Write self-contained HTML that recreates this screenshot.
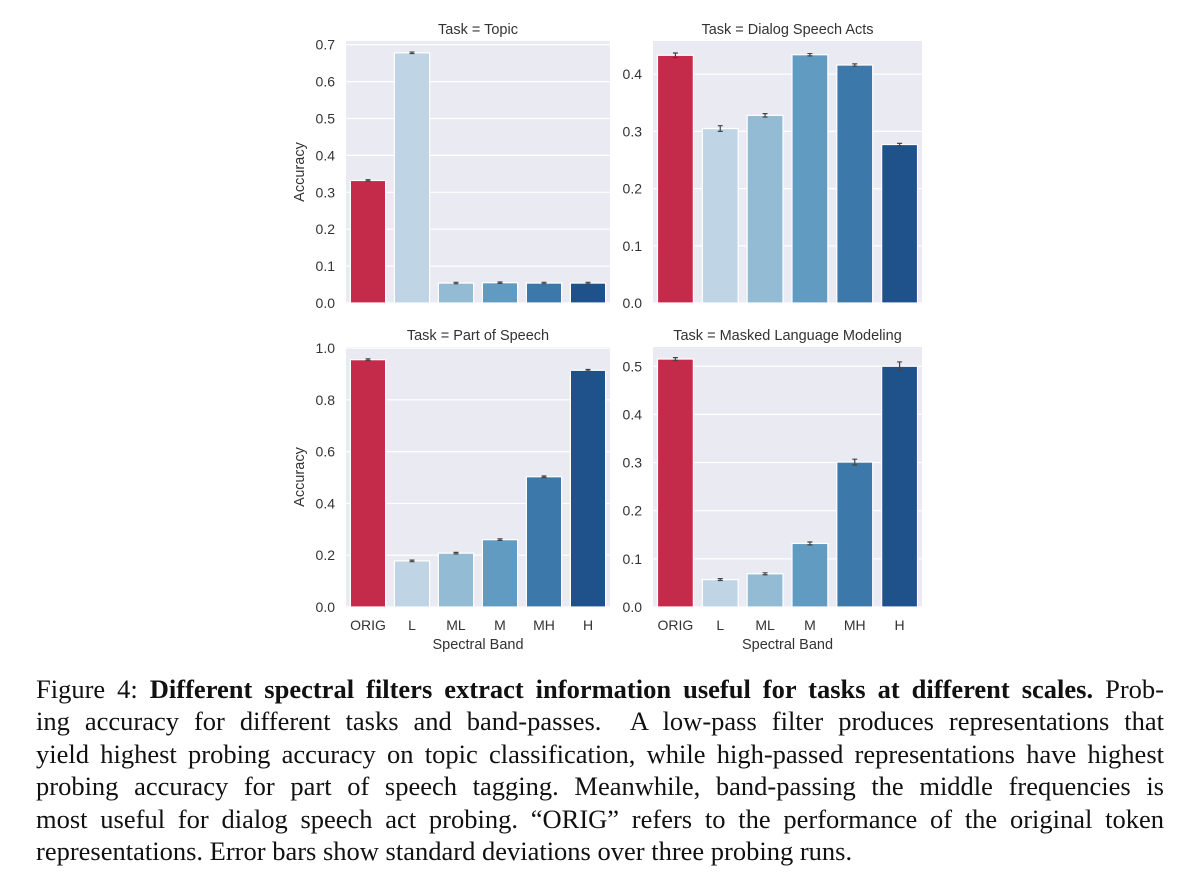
<!DOCTYPE html>
<html><head><meta charset="utf-8"><style>
body{margin:0;background:#fff;width:1200px;height:878px;overflow:hidden;position:relative}
svg{position:absolute;left:0;top:0}
#cap{position:absolute;left:36px;top:673px;width:1128px;font-family:"Liberation Serif",serif;font-size:26.5px;line-height:32.4px;color:#111}
#cap div{white-space:nowrap;height:32.4px}
#cap span{display:inline-block;transform-origin:0 50%}
</style></head><body>
<svg id="chart" width="1200" height="670" font-family="Liberation Sans, sans-serif"></svg>
<div id="cap">
<div><span>Figure 4: <b>Different spectral filters extract information useful for tasks at different scales.</b> Prob-</span></div>
<div><span>ing accuracy for different tasks and band-passes.&nbsp; A low-pass filter produces representations that</span></div>
<div><span>yield highest probing accuracy on topic classification, while high-passed representations have highest</span></div>
<div><span>probing accuracy for part of speech tagging. Meanwhile, band-passing the middle frequencies is</span></div>
<div><span>most useful for dialog speech act probing. “ORIG” refers to the performance of the original token</span></div>
<div class="last"><span>representations. Error bars show standard deviations over three probing runs.</span></div>
</div>
<script>
document.querySelectorAll('#cap div').forEach(d=>{
  const s=d.firstElementChild;
  if(d.classList.contains('last'))return;
  const w=s.getBoundingClientRect().width;
  const n=(s.textContent.trim().match(/[ \u00a0]/g)||[]).length;
  if(w<1128&&n){s.style.wordSpacing=((1128-w)/n)+'px';}
  const w2=s.getBoundingClientRect().width;
  if(w2>1128.5){s.style.transform='scaleX('+(1128/w2)+')';}
});
const categories=["ORIG","L","ML","M","MH","H"];
const topicVals=[0.332,0.678,0.054,0.055,0.054,0.054];
const dialogVals=[0.433,0.305,0.328,0.434,0.416,0.277];
const posVals=[0.955,0.178,0.208,0.260,0.503,0.914];
const mlmVals=[0.515,0.057,0.069,0.132,0.301,0.500];
const topicErr=[0.002,0.002,0.002,0.002,0.002,0.002];
const dialogErr=[0.004,0.005,0.003,0.002,0.002,0.002];
const posErr=[0.003,0.003,0.003,0.003,0.003,0.003];
const mlmErr=[0.003,0.002,0.002,0.003,0.006,0.009];
const topicTicks=[0,0.1,0.2,0.3,0.4,0.5,0.6,0.7];
const dialogTicks=[0,0.1,0.2,0.3,0.4];
const posTicks=[0,0.2,0.4,0.6,0.8,1.0];
const mlmTicks=[0,0.1,0.2,0.3,0.4,0.5];
const colors=["#c42a4a","#bfd5e6","#93bcd4","#629bc1","#3c78a9","#1f528a"];
const NS="http://www.w3.org/2000/svg";
const svg=document.getElementById('chart');
function mk(t,a,p){const e=document.createElementNS(NS,t);for(const k in a)e.setAttribute(k,a[k]);(p||svg).appendChild(e);return e;}
function panel(key,title,vals,errs,ticks,ymax,x0,x1,y0,y1,showY,showX){
  const g=mk('g',{});
  
  
  const y=v=>y1-(v/ymax)*(y1-y0);
  const bg=mk('rect',{x:x0,y:y0,width:x1-x0,height:y1-y0,fill:'#eaeaf2'},g);
  
  ticks.forEach(t=>{
    const l=mk('line',{x1:x0,x2:x1,y1:y(t),y2:y(t),stroke:'#fff','stroke-width':1.2},g);
    
    const tx=mk('text',{x:x0-11,y:y(t)+5,'text-anchor':'end','font-size':14,fill:'#333'},g);
    tx.textContent=(Math.round(t*10)/10).toFixed(1);
    
  });
  const bw=(x1-x0)/categories.length;
  categories.forEach((c,i)=>{
    const bx=x0+bw*i+bw*0.1, w=bw*0.8;
    const r=mk('rect',{x:bx,y:y(vals[i]),width:w,height:y1-y(vals[i]),fill:colors[i],stroke:'#fff','stroke-width':1.2},g);
    
    const cx=bx+w/2,e1=y(vals[i]+errs[i]),e2=y(vals[i]-errs[i]);
    const eb=mk('path',{d:`M${cx},${e1}V${e2}M${cx-2.5},${e1}h5M${cx-2.5},${e2}h5`,stroke:'#444','stroke-width':1.2,fill:'none'},g);
    
    if(showX){const t=mk('text',{x:cx,y:y1+23,'text-anchor':'middle','font-size':14,fill:'#333'},g);t.textContent=c;
      }
  });
  const tt=mk('text',{x:(x0+x1)/2,y:y0-7,'text-anchor':'middle','font-size':14.5,fill:'#333'},g);
  tt.textContent=title;
  if(showY){const a=mk('text',{x:0,y:0,'text-anchor':'middle','font-size':14.5,fill:'#333',transform:`translate(${x0-42},${(y0+y1)/2}) rotate(-90)`},g);
    a.textContent='Accuracy';}
  if(showX){const a=mk('text',{x:(x0+x1)/2,y:y1+42,'text-anchor':'middle','font-size':14.5,fill:'#333'},g);
    a.textContent='Spectral Band';}
}
panel('topic','Task = Topic',topicVals,topicErr,topicTicks,0.71,346,610,41,303,true,false);
panel('dialog','Task = Dialog Speech Acts',dialogVals,dialogErr,dialogTicks,0.458,653,922,41,303,false,false);
panel('pos','Task = Part of Speech',posVals,posErr,posTicks,1.004,346,610,347,607,true,true);
panel('mlm','Task = Masked Language Modeling',mlmVals,mlmErr,mlmTicks,0.54,653,922,347,607,false,true);
</script>
</body></html>
